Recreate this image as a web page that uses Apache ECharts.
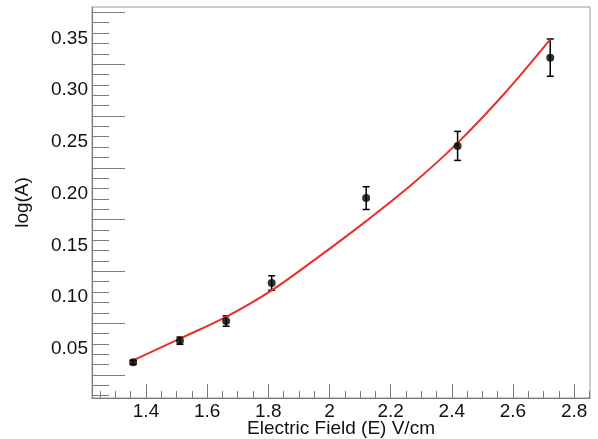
<!DOCTYPE html>
<html><head><meta charset="utf-8">
<script src="https://cdn.jsdelivr.net/npm/echarts@6/dist/echarts.min.js"></script>
<style>html,body{margin:0;padding:0;background:#fff}#c{width:598px;height:439px}</style>
</head><body><div id="c"></div>
<script>
// measured points (Electric Field vs log(A)) with vertical errors
const fieldE  = [1.358, 1.511, 1.662, 1.811, 2.120, 2.419, 2.722];
const logA    = [0.0371, 0.058, 0.077, 0.1137, 0.1957, 0.2461, 0.3313];
const logAErr = [0.002, 0.0035, 0.005, 0.007, 0.011, 0.014, 0.018];
// fitted curve
const fitE    = [1.358, 1.511, 1.662, 1.811, 1.96, 2.12, 2.27, 2.419, 2.57, 2.722];
const fitLogA = [0.039, 0.060, 0.081, 0.1066, 0.138, 0.1735, 0.209, 0.249, 0.296, 0.349];
// tick labels / ticks
const xMajorTicks = [1.4, 1.6, 1.8, 2.0, 2.2, 2.4, 2.6, 2.8];
const xMinorTicks = [1.25, 1.3, 1.35, 1.45, 1.5, 1.55, 1.65, 1.7, 1.75, 1.85, 1.9, 1.95, 2.05, 2.1, 2.15,
                     2.25, 2.3, 2.35, 2.45, 2.5, 2.55, 2.65, 2.7, 2.75, 2.85];
const yLabelValues = [0.05, 0.10, 0.15, 0.20, 0.25, 0.30, 0.35];
const yMajorTicks = [0.025, 0.075, 0.125, 0.175, 0.225, 0.275, 0.325, 0.375];
const yMinorTicks = [0.005, 0.015, 0.035, 0.045, 0.055, 0.065, 0.085, 0.095, 0.105, 0.115,
                     0.135, 0.145, 0.155, 0.165, 0.185, 0.195, 0.205, 0.215, 0.235, 0.245, 0.255, 0.265,
                     0.285, 0.295, 0.305, 0.315, 0.335, 0.345, 0.355, 0.365];
const xRange = [1.2234, 2.852];
const yRange = [0.0027, 0.3802];

const FONT = '"Liberation Sans", Arial, Helvetica, sans-serif';
const AX = '#7a7a7a';
const chart = echarts.init(document.getElementById('c'), null, {renderer: 'canvas'});

const baseX = {
  type: 'value', min: xRange[0], max: xRange[1], position: 'bottom',
  splitLine: {show: false}
};
const baseY = {
  type: 'value', min: yRange[0], max: yRange[1], position: 'left',
  splitLine: {show: false}
};

chart.setOption({
  animation: false,
  backgroundColor: '#fff',
  grid: {left: 92, right: 8, top: 7, bottom: 41, show: true, borderColor: '#999', borderWidth: 1,
         backgroundColor: 'transparent', containLabel: false, outerBoundsMode: 'none'},
  xAxis: [
    Object.assign({}, baseX, {
      name: 'Electric Field (E) V/cm', nameLocation: 'middle', nameGap: 21, nameMoveOverlap: false,
      nameTextStyle: {fontFamily: FONT, fontSize: 19, color: '#111'},
      axisLine: {show: true, lineStyle: {color: AX, width: 1}},
      axisTick: {show: true, inside: true, length: 14, customValues: xMajorTicks, lineStyle: {color: AX, width: 1}},
      axisLabel: {show: true, customValues: xMajorTicks, margin: 4, fontFamily: FONT, fontSize: 19, color: '#111',
        formatter: v => String(Math.round(v * 10) / 10)}
    }),
    Object.assign({}, baseX, {
      axisLine: {show: false},
      axisTick: {show: true, inside: true, length: 7, customValues: xMinorTicks, lineStyle: {color: AX, width: 1}},
      axisLabel: {show: false}
    })
  ],
  yAxis: [
    Object.assign({}, baseY, {
      name: 'log(A)', nameLocation: 'middle', nameGap: 60, nameRotate: 90, nameMoveOverlap: false,
      nameTextStyle: {fontFamily: FONT, fontSize: 19, color: '#111'},
      axisLine: {show: true, lineStyle: {color: AX, width: 1}},
      axisTick: {show: true, inside: true, length: 33, customValues: yMajorTicks, lineStyle: {color: AX, width: 1}},
      axisLabel: {show: true, customValues: yLabelValues, margin: 4, fontFamily: FONT, fontSize: 19, color: '#111',
        formatter: v => v.toFixed(2)}
    }),
    Object.assign({}, baseY, {
      axisLine: {show: false},
      axisTick: {show: true, inside: true, length: 17, customValues: yMinorTicks, lineStyle: {color: AX, width: 1}},
      axisLabel: {show: false}
    })
  ],
  series: [
    {
      type: 'custom', xAxisIndex: 0, yAxisIndex: 0, z: 3,
      data: fieldE.map((x, i) => [x, logA[i], logAErr[i]]),
      renderItem: (params, api) => {
        const x = api.value(0), y = api.value(1), e = api.value(2);
        const hi = api.coord([x, y + e]), lo = api.coord([x, y - e]);
        const cw = 3.5, st = {stroke: '#000', lineWidth: 1.5};
        return {type: 'group', children: [
          {type: 'line', shape: {x1: hi[0], y1: hi[1], x2: lo[0], y2: lo[1]}, style: st},
          {type: 'line', shape: {x1: hi[0] - cw, y1: hi[1], x2: hi[0] + cw, y2: hi[1]}, style: st},
          {type: 'line', shape: {x1: lo[0] - cw, y1: lo[1], x2: lo[0] + cw, y2: lo[1]}, style: st}
        ]};
      }
    },
    {
      type: 'line', xAxisIndex: 0, yAxisIndex: 0, z: 4,
      data: fitE.map((x, i) => [x, fitLogA[i]]),
      smooth: 0.35, showSymbol: false, symbol: 'none',
      lineStyle: {color: '#e8302a', width: 2}
    },
    {
      type: 'scatter', xAxisIndex: 0, yAxisIndex: 0, z: 5,
      data: fieldE.map((x, i) => [x, logA[i]]),
      symbol: 'circle', symbolSize: 8,
      itemStyle: {color: '#000'}
    }
  ]
});
</script></body></html>
